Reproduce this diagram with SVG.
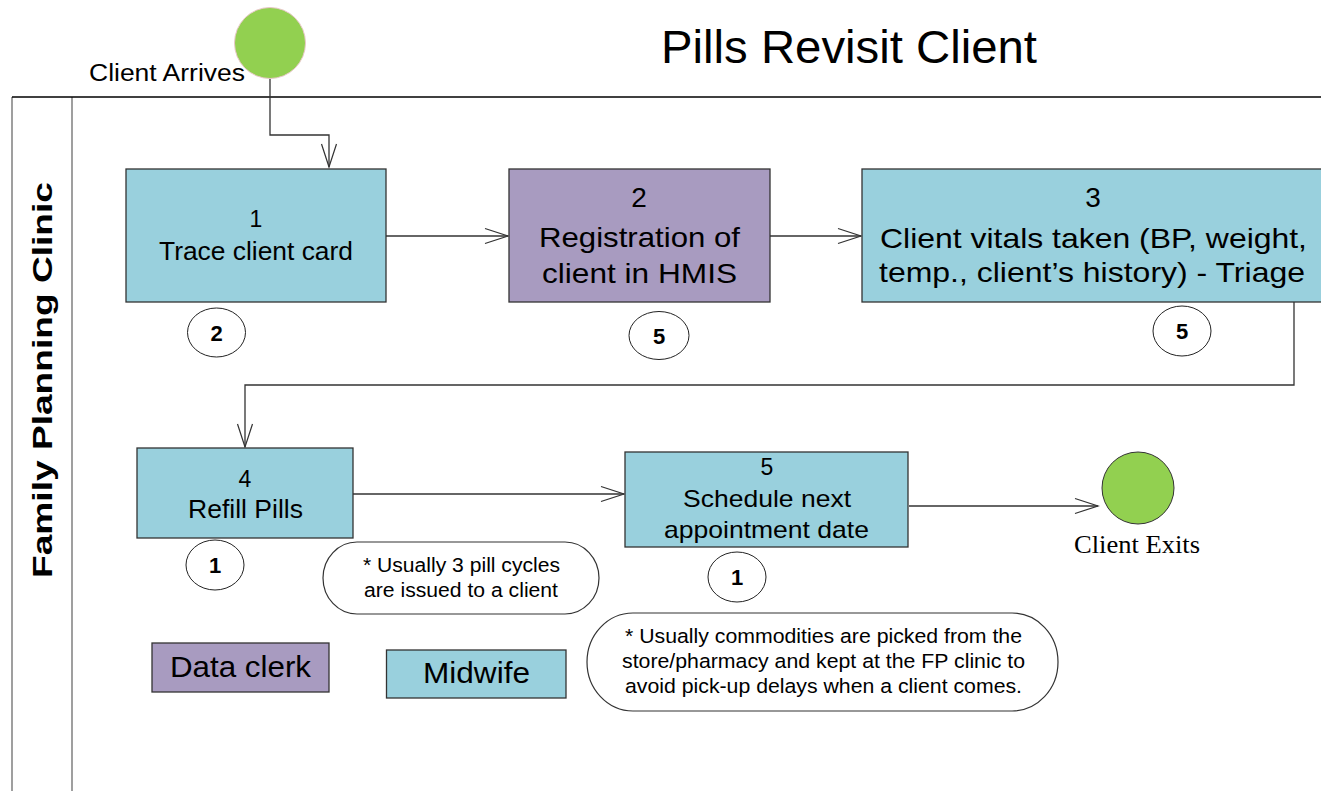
<svg xmlns="http://www.w3.org/2000/svg" width="1321" height="791" viewBox="0 0 1321 791">
<defs>
<style>
.t{font-family:"Liberation Sans",Arial,sans-serif;fill:#000}
.b{font-weight:bold}
.blue{fill:#99d0dd;stroke:#333;stroke-width:1.3}
.purple{fill:#a89bc0;stroke:#333;stroke-width:1.3}
.badge{fill:#fff;stroke:#222;stroke-width:1}
.note{fill:#fff;stroke:#333;stroke-width:1.2}
.conn{fill:none;stroke:#333;stroke-width:1.3}
.lane{stroke:#7f7f7f;stroke-width:1.5}
</style>
<marker id="arr" viewBox="0 0 26 18" refX="24" refY="9" markerWidth="26" markerHeight="18" markerUnits="userSpaceOnUse" orient="auto">
<path d="M1,1.5 L24,9 L1,16.5" fill="none" stroke="#333" stroke-width="1.2"/>
</marker>
</defs>
<rect width="1321" height="791" fill="#fff"/>

<g id="lane">
<line class="lane" x1="12" y1="97" x2="12" y2="791"/>
<line class="lane" x1="72" y1="97" x2="72" y2="791"/>
<line x1="12" y1="97" x2="1321" y2="97" stroke="#000" stroke-width="1.3"/>
<text class="t b" transform="translate(52,578) rotate(-90)" font-size="28" textLength="396" lengthAdjust="spacingAndGlyphs">Family Planning Clinic</text>
</g>

<g id="title">
<text class="t" x="661" y="63" font-size="47" textLength="376" lengthAdjust="spacingAndGlyphs">Pills Revisit Client</text>
</g>

<g id="connectors">
<path class="conn" d="M270,65 V135 H329 V167" marker-end="url(#arr)"/>
<path class="conn" d="M386,236 H508" marker-end="url(#arr)"/>
<path class="conn" d="M770,236 H861" marker-end="url(#arr)"/>
<path class="conn" d="M1294,302 V385 H245 V447" marker-end="url(#arr)"/>
<path class="conn" d="M353,494 H624" marker-end="url(#arr)"/>
<path class="conn" d="M909,506 H1098" marker-end="url(#arr)"/>
</g>

<g id="start">
<circle cx="270" cy="43" r="35.5" fill="#92d050" stroke="#e8c8c8" stroke-width="1"/>
<text class="t" x="89" y="81" font-size="23" textLength="156" lengthAdjust="spacingAndGlyphs">Client Arrives</text>
</g>

<g id="step1">
<rect class="blue" x="126" y="169" width="260" height="133"/>
<text class="t" x="256" y="227" font-size="23" text-anchor="middle">1</text>
<text class="t" x="159" y="260" font-size="26" textLength="194" lengthAdjust="spacingAndGlyphs">Trace client card</text>
</g>
<g id="badge1">
<ellipse class="badge" cx="216.5" cy="332.5" rx="29" ry="24.5"/>
<text class="t b" x="216.5" y="340.5" font-size="22" text-anchor="middle">2</text>
</g>

<g id="step2">
<rect class="purple" x="509" y="169" width="261" height="133"/>
<text class="t" x="639" y="207" font-size="28" text-anchor="middle">2</text>
<text class="t" x="539" y="247" font-size="28" textLength="201" lengthAdjust="spacingAndGlyphs">Registration of</text>
<text class="t" x="542" y="283" font-size="28" textLength="195" lengthAdjust="spacingAndGlyphs">client in HMIS</text>
</g>
<g id="badge2">
<ellipse class="badge" cx="659" cy="335.5" rx="30" ry="24"/>
<text class="t b" x="659" y="343.5" font-size="22" text-anchor="middle">5</text>
</g>

<g id="step3">
<rect class="blue" x="862" y="169" width="480" height="133"/>
<text class="t" x="1093" y="207" font-size="28" text-anchor="middle">3</text>
<text class="t" x="880" y="248" font-size="28" textLength="427" lengthAdjust="spacingAndGlyphs">Client vitals taken (BP, weight,</text>
<text class="t" x="879" y="282" font-size="28" textLength="426" lengthAdjust="spacingAndGlyphs">temp., client’s history) - Triage</text>
</g>
<g id="badge3">
<ellipse class="badge" cx="1182" cy="331" rx="29" ry="25"/>
<text class="t b" x="1182" y="339" font-size="22" text-anchor="middle">5</text>
</g>

<g id="step4">
<rect class="blue" x="137" y="448" width="216" height="90"/>
<text class="t" x="245" y="487" font-size="23" text-anchor="middle">4</text>
<text class="t" x="188" y="518" font-size="26" textLength="115" lengthAdjust="spacingAndGlyphs">Refill Pills</text>
</g>
<g id="badge4">
<ellipse class="badge" cx="215" cy="565" rx="29" ry="25"/>
<text class="t b" x="215" y="573" font-size="22" text-anchor="middle">1</text>
</g>

<g id="note1">
<rect class="note" x="323" y="542" width="276" height="72" rx="34" ry="36"/>
<text class="t" x="363" y="572" font-size="20" textLength="197" lengthAdjust="spacingAndGlyphs">* Usually 3 pill cycles</text>
<text class="t" x="364" y="597" font-size="20" textLength="194" lengthAdjust="spacingAndGlyphs">are issued to a client</text>
</g>

<g id="step5">
<rect class="blue" x="625" y="452" width="283" height="95"/>
<text class="t" x="767" y="475" font-size="23" text-anchor="middle">5</text>
<text class="t" x="683" y="507" font-size="24" textLength="168" lengthAdjust="spacingAndGlyphs">Schedule next</text>
<text class="t" x="664" y="538" font-size="24" textLength="205" lengthAdjust="spacingAndGlyphs">appointment date</text>
</g>
<g id="badge5">
<ellipse class="badge" cx="737" cy="577" rx="29" ry="25"/>
<text class="t b" x="737" y="585" font-size="22" text-anchor="middle">1</text>
</g>

<g id="end">
<circle cx="1138" cy="488" r="36" fill="#92d050" stroke="#333" stroke-width="1"/>
<text x="1074" y="553" font-family="Liberation Serif,Times New Roman,serif" font-size="26" textLength="126" lengthAdjust="spacingAndGlyphs">Client Exits</text>
</g>

<g id="note2">
<rect class="note" x="587" y="613" width="471" height="98" rx="46" ry="49"/>
<text class="t" x="625" y="643" font-size="20.5" textLength="397" lengthAdjust="spacingAndGlyphs">* Usually commodities are picked from the</text>
<text class="t" x="622" y="668" font-size="20.5" textLength="403" lengthAdjust="spacingAndGlyphs">store/pharmacy and kept at the FP clinic to</text>
<text class="t" x="625" y="693" font-size="20.5" textLength="397" lengthAdjust="spacingAndGlyphs">avoid pick-up delays when a client comes.</text>
</g>

<g id="legend-data-clerk">
<rect class="purple" x="152" y="643" width="177" height="49"/>
<text class="t" x="170" y="677" font-size="30" textLength="141" lengthAdjust="spacingAndGlyphs">Data clerk</text>
</g>
<g id="legend-midwife">
<rect class="blue" x="386.5" y="650" width="179.5" height="48"/>
<text class="t" x="423" y="683" font-size="30" textLength="107" lengthAdjust="spacingAndGlyphs">Midwife</text>
</g>
</svg>
